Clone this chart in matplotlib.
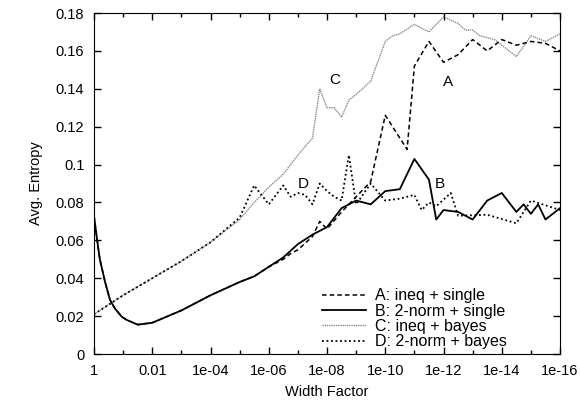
import matplotlib
matplotlib.use("Agg")
import matplotlib.pyplot as plt
import numpy as np

plt.rcParams['font.family'] = ['Liberation Sans', 'DejaVu Sans']

# exponents of the width factor (x = 10**-d) and entropy
a_dec = [0, 0.1, 0.2, 0.38, 0.55, 0.72, 0.95, 1.12, 1.5, 2.0, 3.0, 4.0, 5.0, 5.5, 6.0,
         6.5, 6.75, 7.0, 7.5, 7.75, 8.0, 8.5, 9.0, 9.5, 10.0, 10.75, 11.0, 11.5, 12.0,
         12.5, 13.0, 13.5, 14.0, 14.5, 15.0, 15.5, 16.0]
a_val = [0.073, 0.061, 0.050, 0.038, 0.0285, 0.024, 0.0197, 0.018, 0.0155, 0.0165, 0.023,
         0.031, 0.038, 0.041, 0.046, 0.050, 0.053, 0.055, 0.062, 0.070, 0.066, 0.075,
         0.083, 0.091, 0.126, 0.108, 0.152, 0.165, 0.154, 0.158, 0.166, 0.160, 0.166,
         0.163, 0.165, 0.164, 0.160]

b_dec = [0, 0.1, 0.2, 0.38, 0.55, 0.72, 0.95, 1.12, 1.5, 2.0, 3.0, 4.0, 5.0, 5.5, 6.0,
         6.5, 7.0, 7.5, 8.0, 8.5, 9.0, 9.5, 10.0, 10.5, 11.0, 11.5, 11.75, 12.0, 12.5,
         13.0, 13.5, 14.0, 14.5, 14.75, 15.0, 15.25, 15.5, 16.0]
b_val = [0.073, 0.061, 0.050, 0.038, 0.0285, 0.024, 0.0197, 0.018, 0.0155, 0.0165, 0.023,
         0.031, 0.038, 0.041, 0.046, 0.051, 0.058, 0.063, 0.067, 0.077, 0.081, 0.079,
         0.086, 0.087, 0.103, 0.092, 0.071, 0.076, 0.075, 0.071, 0.081, 0.085, 0.075,
         0.079, 0.074, 0.079, 0.071, 0.077]

c_dec = [0, 1, 2, 3, 4, 5, 5.5, 6, 6.5, 7, 7.5, 7.75, 8.0, 8.25, 8.5, 8.75, 9.0, 9.5,
         10.0, 10.25, 10.5, 11.0, 11.5, 12.0, 12.5, 12.75, 13.0, 13.25, 13.75, 14.0,
         14.5, 15.0, 15.5, 16.0]
c_val = [0.021, 0.031, 0.040, 0.049, 0.059, 0.071, 0.080, 0.088, 0.095, 0.105, 0.114,
         0.140, 0.130, 0.130, 0.125, 0.134, 0.137, 0.144, 0.165, 0.168, 0.169, 0.174,
         0.170, 0.178, 0.1745, 0.171, 0.171, 0.168, 0.166, 0.163, 0.157, 0.168, 0.165,
         0.169]

d_dec = [0, 1, 2, 3, 4, 5, 5.5, 6.0, 6.5, 6.75, 7.0, 7.25, 7.5, 7.75, 8.0, 8.25, 8.5,
         8.75, 9.0, 9.5, 10.0, 10.5, 11.0, 11.25, 11.5, 11.75, 12.25, 12.5, 13.5, 14.5,
         15.0, 16.0]
d_val = [0.021, 0.031, 0.040, 0.049, 0.059, 0.072, 0.089, 0.079, 0.089, 0.083, 0.085,
         0.084, 0.079, 0.090, 0.086, 0.083, 0.081, 0.105, 0.079, 0.090, 0.081, 0.082,
         0.084, 0.076, 0.080, 0.078, 0.085, 0.073, 0.0735, 0.069, 0.081, 0.076]

names = ["A: ineq + single", "B: 2-norm + single", "C: ineq + bayes", "D: 2-norm + bayes"]
xticks = [0, 2, 4, 6, 8, 10, 12, 14, 16]
xticklabels = ["1", "0.01", "1e-04", "1e-06", "1e-08", "1e-10", "1e-12", "1e-14", "1e-16"]
yticks = [0, 0.02, 0.04, 0.06, 0.08, 0.1, 0.12, 0.14, 0.16, 0.18]
yticklabels = ["0", "0.02", "0.04", "0.06", "0.08", "0.1", "0.12", "0.14", "0.16", "0.18"]

fig = plt.figure(figsize=(5.81, 4.07), dpi=100)
ax = fig.add_axes([0.1618, 0.1302, 0.8021, 0.8378])

def xs(dec):
    return 10.0 ** (-np.array(dec))

ax.plot(xs(c_dec), c_val, color="#8a8a8a", linestyle=(0, (1, 0.6)), lw=1.0, label=names[2])
ax.plot(xs(d_dec), d_val, color="black", linestyle=(0, (1, 1.5)), lw=1.3, label=names[3])
ax.plot(xs(b_dec), b_val, color="black", linestyle="-", lw=1.3, label=names[1])
ax.plot(xs(a_dec), a_val, color="black", linestyle=(0, (3, 2)), lw=1.1, label=names[0])

ax.set_xscale("log")
ax.set_xlim(1, 1e-16)
ax.set_ylim(0, 0.18)
ax.set_xticks(xs(xticks))
ax.set_xticklabels(xticklabels)
ax.set_xticks(xs([1, 3, 5, 7, 9, 11, 13, 15]), minor=True)
ax.xaxis.set_minor_formatter(matplotlib.ticker.NullFormatter())
ax.set_yticks(yticks)
ax.set_yticklabels(yticklabels)
ax.tick_params(which="both", direction="in", top=True, right=True, labelsize=10.5, width=1)
ax.tick_params(which="major", length=5, pad=7)
ax.tick_params(which="minor", length=3)

ax.set_xlabel("Width Factor", fontsize=10.5, labelpad=5)
ax.set_ylabel("Avg. Entropy", fontsize=10.5, labelpad=9)

ax.text(10 ** -8.25, 0.1445, "C", fontsize=11, ha="center", va="center")
ax.text(10 ** -12.15, 0.1435, "A", fontsize=11, ha="center", va="center")
ax.text(10 ** -7.2, 0.0895, "D", fontsize=11, ha="center", va="center")
ax.text(10 ** -11.88, 0.0895, "B", fontsize=11, ha="center", va="center")

h, l = ax.get_legend_handles_labels()
order = [3, 2, 0, 1]
ax.legend([h[i] for i in order], [l[i] for i in order], loc="lower right", frameon=False,
          fontsize=11.5, handlelength=2.8, handletextpad=0.55, labelspacing=0.02,
          borderaxespad=0.0, bbox_to_anchor=(0.9, -0.005))

fig.savefig("out.png", dpi=100)
